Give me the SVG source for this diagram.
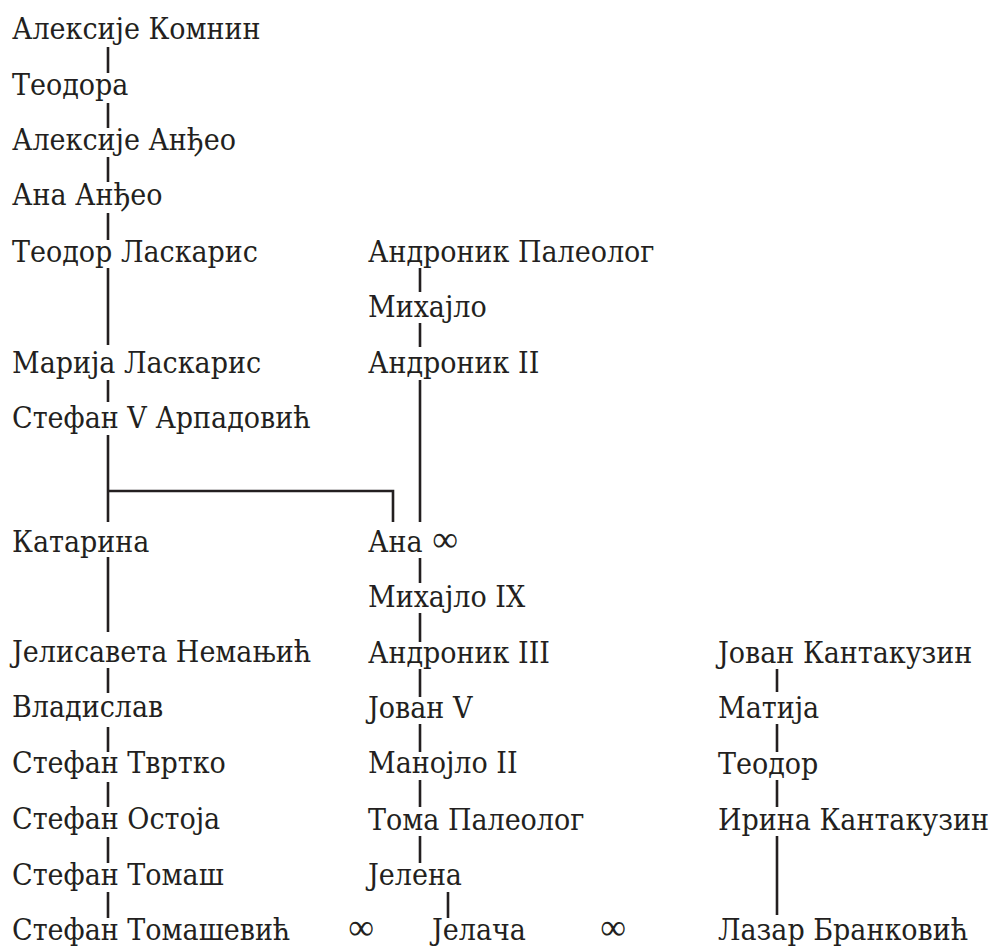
<svg xmlns="http://www.w3.org/2000/svg" width="988" height="947" viewBox="0 0 988 947">
<style>
text{font-family:"DejaVu Serif","Liberation Serif",serif;font-stretch:condensed;font-size:30px;fill:#231f20}
text.inf{font-family:"Liberation Serif","DejaVu Serif",serif;font-size:36px;font-stretch:normal}
.c line,.c path{stroke:#231f20;stroke-width:2.6;fill:none}
</style>
<rect width="988" height="947" fill="#fff"/>
<g class="c" id="connectors">
<line x1="108" y1="47" x2="108" y2="73"/>
<line x1="108" y1="103" x2="108" y2="128"/>
<line x1="108" y1="157" x2="108" y2="182"/>
<line x1="108" y1="213" x2="108" y2="240"/>
<line x1="108" y1="268" x2="108" y2="345"/>
<line x1="108" y1="380" x2="108" y2="402"/>
<line x1="108" y1="435" x2="108" y2="522"/>
<path d="M108 491H393V522"/>
<line x1="108" y1="557" x2="108" y2="632"/>
<line x1="108" y1="668" x2="108" y2="693"/>
<line x1="108" y1="727" x2="108" y2="752"/>
<line x1="108" y1="782" x2="108" y2="807"/>
<line x1="108" y1="837" x2="108" y2="863"/>
<line x1="108" y1="892" x2="108" y2="918"/>
<line x1="420" y1="268" x2="420" y2="292"/>
<line x1="420" y1="323" x2="420" y2="347"/>
<line x1="420" y1="380" x2="420" y2="522"/>
<line x1="420" y1="558" x2="420" y2="583"/>
<line x1="420" y1="613" x2="420" y2="642"/>
<line x1="420" y1="669" x2="420" y2="697"/>
<line x1="420" y1="724" x2="420" y2="752"/>
<line x1="420" y1="780" x2="420" y2="807"/>
<line x1="420" y1="836" x2="420" y2="863"/>
<line x1="448" y1="892" x2="448" y2="918"/>
<line x1="777" y1="669" x2="777" y2="692"/>
<line x1="777" y1="724" x2="777" y2="752"/>
<line x1="777" y1="780" x2="777" y2="807"/>
<line x1="777" y1="836" x2="777" y2="915"/>
</g>
<g id="n1"><text x="12" y="39">Алексије Комнин</text></g>
<g id="n2"><text x="12" y="95">Теодора</text></g>
<g id="n3"><text x="12" y="150">Алексије Анђео</text></g>
<g id="n4"><text x="12" y="205">Ана Анђео</text></g>
<g id="n5"><text x="12" y="262">Теодор Ласкарис</text></g>
<g id="n6"><text x="12" y="373">Марија Ласкарис</text></g>
<g id="n7"><text x="12" y="428">Стефан V Арпадовић</text></g>
<g id="n8"><text x="12" y="552">Катарина</text></g>
<g id="n9"><text x="12" y="662">Јелисавета Немањић</text></g>
<g id="n10"><text x="12" y="717">Владислав</text></g>
<g id="n11"><text x="12" y="773">Стефан Твртко</text></g>
<g id="n12"><text x="12" y="829">Стефан Остоја</text></g>
<g id="n13"><text x="12" y="885">Стефан Томаш</text></g>
<g id="n14"><text x="12" y="940">Стефан Томашевић</text></g>
<g id="m1"><text x="368" y="262">Андроник Палеолог</text></g>
<g id="m2"><text x="368" y="317">Михајло</text></g>
<g id="m3"><text x="368" y="373">Андроник II</text></g>
<g id="m4"><text x="368" y="552">Ана</text><text class="inf" x="445" y="551" text-anchor="middle">∞</text></g>
<g id="m5"><text x="368" y="607">Михајло IX</text></g>
<g id="m6"><text x="368" y="663">Андроник III</text></g>
<g id="m7"><text x="368" y="718">Јован V</text></g>
<g id="m8"><text x="368" y="773">Манојло II</text></g>
<g id="m9"><text x="368" y="830">Тома Палеолог</text></g>
<g id="m10"><text x="368" y="885">Јелена</text></g>
<g id="m11"><text x="432" y="940">Јелача</text></g>
<g id="r1"><text x="718" y="663">Јован Кантакузин</text></g>
<g id="r2"><text x="718" y="718">Матија</text></g>
<g id="r3"><text x="718" y="774">Теодор</text></g>
<g id="r4"><text x="718" y="830">Ирина Кантакузин</text></g>
<g id="r5"><text x="718" y="940">Лазар Бранковић</text></g>
<g id="marriages"><text class="inf" x="361" y="939" text-anchor="middle">∞</text><text class="inf" x="613" y="939" text-anchor="middle">∞</text></g>
</svg>
